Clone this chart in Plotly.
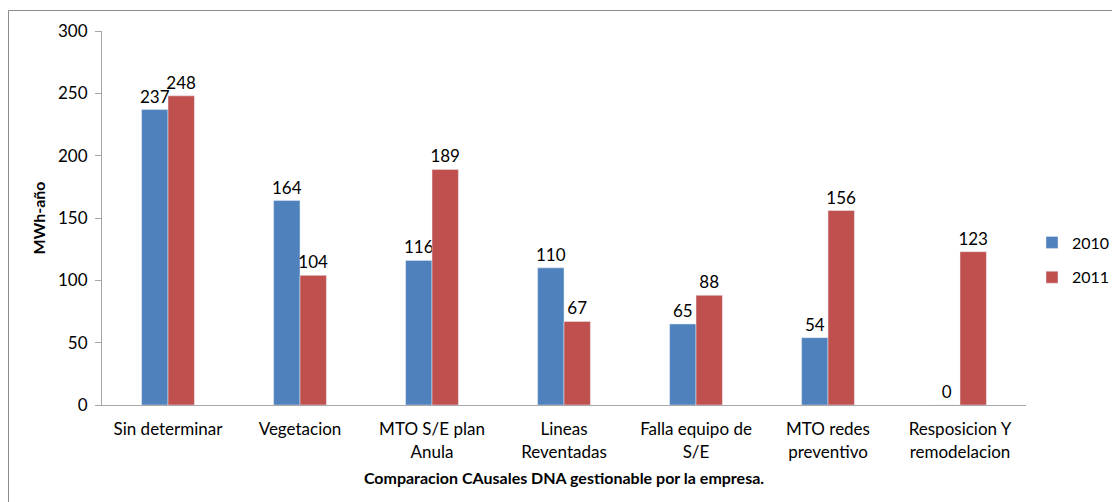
import plotly.graph_objects as go

categories = ["Sin determinar", "Vegetacion", "MTO S/E plan<br>Anula", "Lineas<br>Reventadas",
              "Falla equipo de<br>S/E", "MTO redes<br>preventivo", "Resposicion Y<br>remodelacion"]
v2010 = [237, 164, 116, 110, 65, 54, 0]
v2011 = [248, 104, 189, 67, 88, 156, 123]
yticks = [0, 50, 100, 150, 200, 250, 300]

FONT = "Lato, Open Sans, sans-serif"
W, H = 1112, 502
L, R, T, B = 102, 86, 31, 97
PW, PH = W - L - R, H - T - B

fig = go.Figure()
fig.add_trace(go.Bar(name="2010", x=categories, y=v2010, marker_color="#4F81BD",
                     legendgroup="a",
                     text=[str(v) for v in v2010], textposition="outside",
                     constraintext="none",
                     textfont=dict(size=17, color="#000"), cliponaxis=False))
fig.add_trace(go.Bar(name="2011", x=categories, y=v2011, marker_color="#C0504D",
                     legendgroup="b",
                     text=[str(v) for v in v2011], textposition="outside",
                     constraintext="none",
                     textfont=dict(size=17, color="#000"), cliponaxis=False))

fig.update_layout(
    width=W, height=H,
    margin=dict(l=L, r=R, t=T, b=B, autoexpand=False),
    paper_bgcolor="white", plot_bgcolor="white",
    font=dict(family=FONT, size=17, color="#000"),
    barmode="group", bargap=0.6, bargroupgap=0,
    showlegend=True,
    legend=dict(x=(1032 - L) / PW, y=1 - (260 - T) / PH, xanchor="left", yanchor="middle",
                font=dict(size=16), tracegroupgap=11, itemwidth=30,
                bgcolor="rgba(0,0,0,0)"),
    xaxis=dict(showline=True, linecolor="#A6A6A6", linewidth=1,
               ticks="outside", ticklen=9, tickcolor="rgba(0,0,0,0)",
               tickfont=dict(size=17), showgrid=False,
               title=dict(text="<b>Comparacion CAusales DNA gestionable por la empresa.</b>",
                          font=dict(size=16), standoff=12)),
    yaxis=dict(range=[0, 300], tickvals=yticks, showline=True, linecolor="#A6A6A6",
               linewidth=1, ticks="outside", ticklen=6, tickcolor="#A6A6A6",
               ticklabelstandoff=4,
               showgrid=False, zeroline=False, tickfont=dict(size=17),
               title=dict(text="<b>MWh-año</b>", font=dict(size=16), standoff=8)),
    shapes=[dict(type="rect", xref="paper", yref="paper",
                 x0=-(L - 8.5) / PW, x1=1 + (R + 20) / PW,
                 y0=-(B + 20) / PH, y1=1 + (T - 10.5) / PH,
                 line=dict(color="#8C8C8C", width=1), fillcolor="rgba(0,0,0,0)", layer="below")],
)

fig.write_html("out.html", config={"displayModeBar": False},
               post_script="document.body.style.margin='0';document.body.style.overflow='hidden';")
